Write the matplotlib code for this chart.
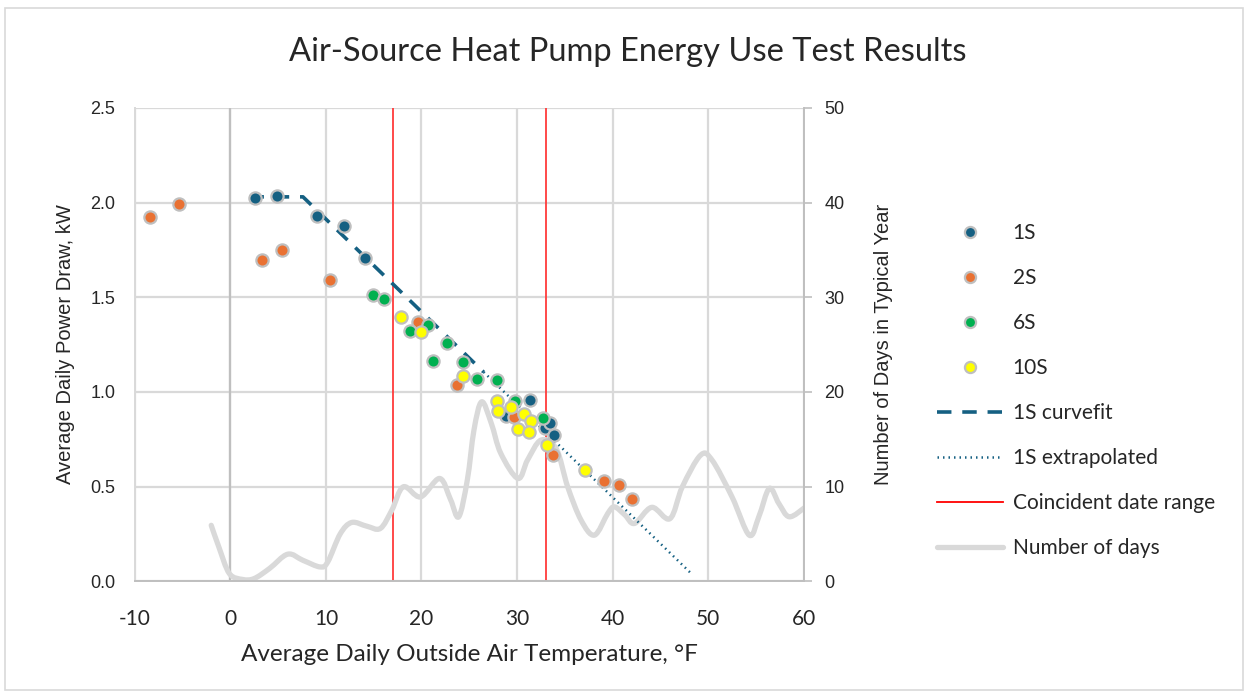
import matplotlib
matplotlib.use("Agg")
import matplotlib.pyplot as plt
import numpy as np
from matplotlib.lines import Line2D
from matplotlib.patches import Rectangle, PathPatch
from matplotlib.path import Path

# ---------------- data ----------------
t_1s = [2.6, 4.9, 9.1, 11.9, 14.1, 28.8, 31.4, 32.9, 33.4, 33.9]
p_1s = [2.025, 2.035, 1.93, 1.876, 1.709, 0.872, 0.957, 0.807, 0.833, 0.773]

t_2s = [-8.4, -5.4, 3.3, 5.4, 10.4, 19.6, 23.7, 29.7, 33.8, 39.05, 40.7, 42.0]
p_2s = [1.925, 1.99, 1.697, 1.748, 1.593, 1.37, 1.036, 0.865, 0.664, 0.53, 0.509, 0.433]

t_6s = [14.95, 16.1, 18.8, 20.7, 22.7, 21.2, 24.3, 25.8, 27.9, 29.8, 32.7]
p_6s = [1.51, 1.492, 1.321, 1.353, 1.26, 1.164, 1.159, 1.069, 1.062, 0.953, 0.86]

t_10s = [17.9, 19.9, 24.3, 27.9, 28.0, 29.4, 30.7, 31.5, 30.1, 31.3, 33.1, 37.1]
p_10s = [1.397, 1.314, 1.083, 0.953, 0.897, 0.918, 0.883, 0.847, 0.803, 0.786, 0.719, 0.585]

t_fit = [2.0, 7.6, 26.5]
p_fit = [2.03, 2.03, 1.105]

t_extrap = [26.5, 48.3]
p_extrap = [1.105, 0.037]

coincident_range = [17, 33]

t_days = [-2.0, -1.2, -0.1, 1.3, 2.5, 4.1, 6.0, 7.6, 9.4, 10.2, 11.5, 12.7, 14.3,
          15.7, 16.9, 18.1, 19.9, 21.9, 23.05, 23.9, 24.8, 25.5, 26.3, 27.3, 28.3,
          30.1, 31.1, 32.5, 34.1, 35.3, 36.7, 38.1, 39.5, 40.2, 41.3, 42.3, 44.1,
          46.0, 47.3, 49.2, 50.4, 52.5, 54.3, 55.3, 56.4, 57.4, 58.5, 60.2]
n_days = [5.9, 3.6, 0.8, 0.18, 0.28, 1.34, 2.85, 2.2, 1.5, 2.04, 5.0, 6.2, 5.8,
          5.57, 7.5, 9.97, 8.9, 10.85, 8.6, 6.8, 10.7, 16.0, 18.95, 16.7, 13.5,
          10.85, 12.8, 14.9, 14.0, 9.97, 6.45, 4.86, 7.16, 7.85, 6.98, 6.1, 7.8,
          6.6, 9.97, 13.3, 12.8, 8.9, 4.86, 6.8, 9.8, 8.2, 6.8, 7.85]

x_ticks = [-10, 0, 10, 20, 30, 40, 50, 60]
y_ticks = [0.0, 0.5, 1.0, 1.5, 2.0, 2.5]
y2_ticks = [0, 10, 20, 30, 40, 50]

# ---------------- style ----------------
C_1S = "#156082"
C_2S = "#E97132"
C_6S = "#00B050"
C_10S = "#FFFF00"
GRID = "#D9D9D9"
GRAYLINE = "#D9D9D9"
RED = "#FF3B3B"
EDGE = "#BFBFBF"

TXT_FONT = ["Lato", "DejaVu Sans"]
NUM_FONT = ["Liberation Sans", "DejaVu Sans"]


def smooth_path(xs, ys):
    """Bezier path through the given points (Excel-style smoothed line)."""
    p = np.column_stack([xs, ys]).astype(float)
    verts = [p[0]]
    codes = [Path.MOVETO]
    n = len(p)
    for i in range(n - 1):
        p0 = p[i - 1] if i > 0 else p[i]
        p1, p2 = p[i], p[i + 1]
        p3 = p[i + 2] if i + 2 < n else p[i + 1]
        c1 = p1 + (p2 - p0) / 6.0
        c2 = p2 - (p3 - p1) / 6.0
        verts += [c1, c2, p2]
        codes += [Path.CURVE4] * 3
    return Path(verts, codes)


fig = plt.figure(figsize=(12.48, 6.96), dpi=100)
fig.patches.append(Rectangle((0.004, 0.008), 0.992, 0.98, transform=fig.transFigure,
                             fill=False, edgecolor="#D9D9D9", linewidth=1.2))

ax = fig.add_axes([0.108, 0.165, 0.536, 0.680])
ax2 = ax.twinx()

ax.set_xlim(-10, 60)
ax.set_ylim(0, 2.5)
ax2.set_ylim(0, 50)

# grid
for xv in x_ticks:
    ax.axvline(xv, color=GRID, lw=1.6, zorder=0.5)
for yv in y_ticks:
    ax.axhline(yv, color=GRID, lw=1.6, zorder=0.5)
ax.axvline(0, color="#BFBFBF", lw=1.6, zorder=0.6)

# coincident range
for xv in coincident_range:
    ax.axvline(xv, color=RED, lw=1.3, zorder=1)

# number of days (secondary scale, drawn in primary axes below markers)
days_patch = PathPatch(smooth_path(t_days, n_days), facecolor="none",
                       edgecolor=GRAYLINE, lw=3.8, capstyle="round", joinstyle="round",
                       transform=ax2.transData, zorder=2)
ax.add_patch(days_patch)

# curve fits
ax.plot(t_fit, p_fit, color=C_1S, lw=2.6, dashes=(4, 3), zorder=3)
ax.plot(t_extrap, p_extrap, color=C_1S, lw=1.8, linestyle=(0, (0.6, 1.6)), zorder=3)

ms = 78
for tx, py, c in [(t_1s, p_1s, C_1S), (t_2s, p_2s, C_2S),
                  (t_6s, p_6s, C_6S), (t_10s, p_10s, C_10S)]:
    ax.scatter(tx, py, s=ms, color=c, edgecolors=EDGE, linewidths=1.6, zorder=4)

ax.set_xlim(-10, 60)
ax.set_ylim(0, 2.5)

# axes formatting
ax.set_xticks(x_ticks)
ax.set_yticks(y_ticks)
ax.set_yticklabels([f"{v:.1f}" for v in y_ticks], fontfamily=NUM_FONT, fontsize=13)
ax.set_xticklabels([str(v) for v in x_ticks], fontfamily=TXT_FONT, fontsize=15)
ax.tick_params(axis="x", length=0, pad=20, colors="#262626")
ax.tick_params(axis="y", length=0, pad=14, colors="#262626")
ax2.set_yticks(y2_ticks)
ax2.set_yticklabels([str(v) for v in y2_ticks], fontfamily=NUM_FONT, fontsize=13)
ax2.tick_params(axis="y", length=6, width=1.2, color="#BFBFBF", pad=9, colors="#262626")
ax2.tick_params(axis="y", color="#BFBFBF")

for a in (ax, ax2):
    for side in ("top", "left", "right", "bottom"):
        a.spines[side].set_visible(False)
ax2.spines["right"].set_visible(True)
ax2.spines["right"].set_color("#BFBFBF")
ax2.spines["right"].set_linewidth(1.4)
ax.spines["left"].set_visible(True)
ax.spines["left"].set_color("#D9D9D9")
ax.spines["left"].set_linewidth(1.4)
ax.spines["bottom"].set_visible(True)
ax.spines["bottom"].set_color("#BFBFBF")
ax.spines["bottom"].set_linewidth(1.4)

ax.set_ylabel("Average Daily Power Draw, kW", fontfamily=NUM_FONT, fontsize=14.5,
              color="#262626", labelpad=11)
ax2.set_ylabel("Number of Days in Typical Year", fontfamily=NUM_FONT, fontsize=14.5,
               color="#262626", labelpad=21)
ax.set_xlabel("Average Daily Outside Air Temperature, °F", fontfamily=TXT_FONT,
              fontsize=17.5, color="#262626", labelpad=11)

fig.text(0.503, 0.925, "Air-Source Heat Pump Energy Use Test Results",
         ha="center", va="center", fontsize=23.5, fontfamily=TXT_FONT, color="#262626")

# legend
handles = [
    Line2D([], [], ls="none", marker="o", ms=8, mfc=C_1S, mec=EDGE, mew=1.6),
    Line2D([], [], ls="none", marker="o", ms=8, mfc=C_2S, mec=EDGE, mew=1.6),
    Line2D([], [], ls="none", marker="o", ms=8, mfc=C_6S, mec=EDGE, mew=1.6),
    Line2D([], [], ls="none", marker="o", ms=8, mfc=C_10S, mec=EDGE, mew=1.6),
    Line2D([], [], color=C_1S, lw=2.6, dashes=(4, 3)),
    Line2D([], [], color=C_1S, lw=1.8, linestyle=(0, (0.6, 1.6))),
    Line2D([], [], color="#FF0000", lw=1.3),
    Line2D([], [], color=GRAYLINE, lw=3.8, solid_capstyle="round"),
]
labels = ["1S", "2S", "6S", "10S", "1S curvefit", "1S extrapolated",
          "Coincident date range", "Number of days"]
fig.legend(handles, labels, loc="upper left", bbox_to_anchor=(0.7355, 0.706),
           frameon=False, handlelength=3.2, handletextpad=0.45, labelspacing=1.2,
           prop={"family": TXT_FONT, "size": 15}, labelcolor="#262626")

fig.savefig("out.png", dpi=100)
